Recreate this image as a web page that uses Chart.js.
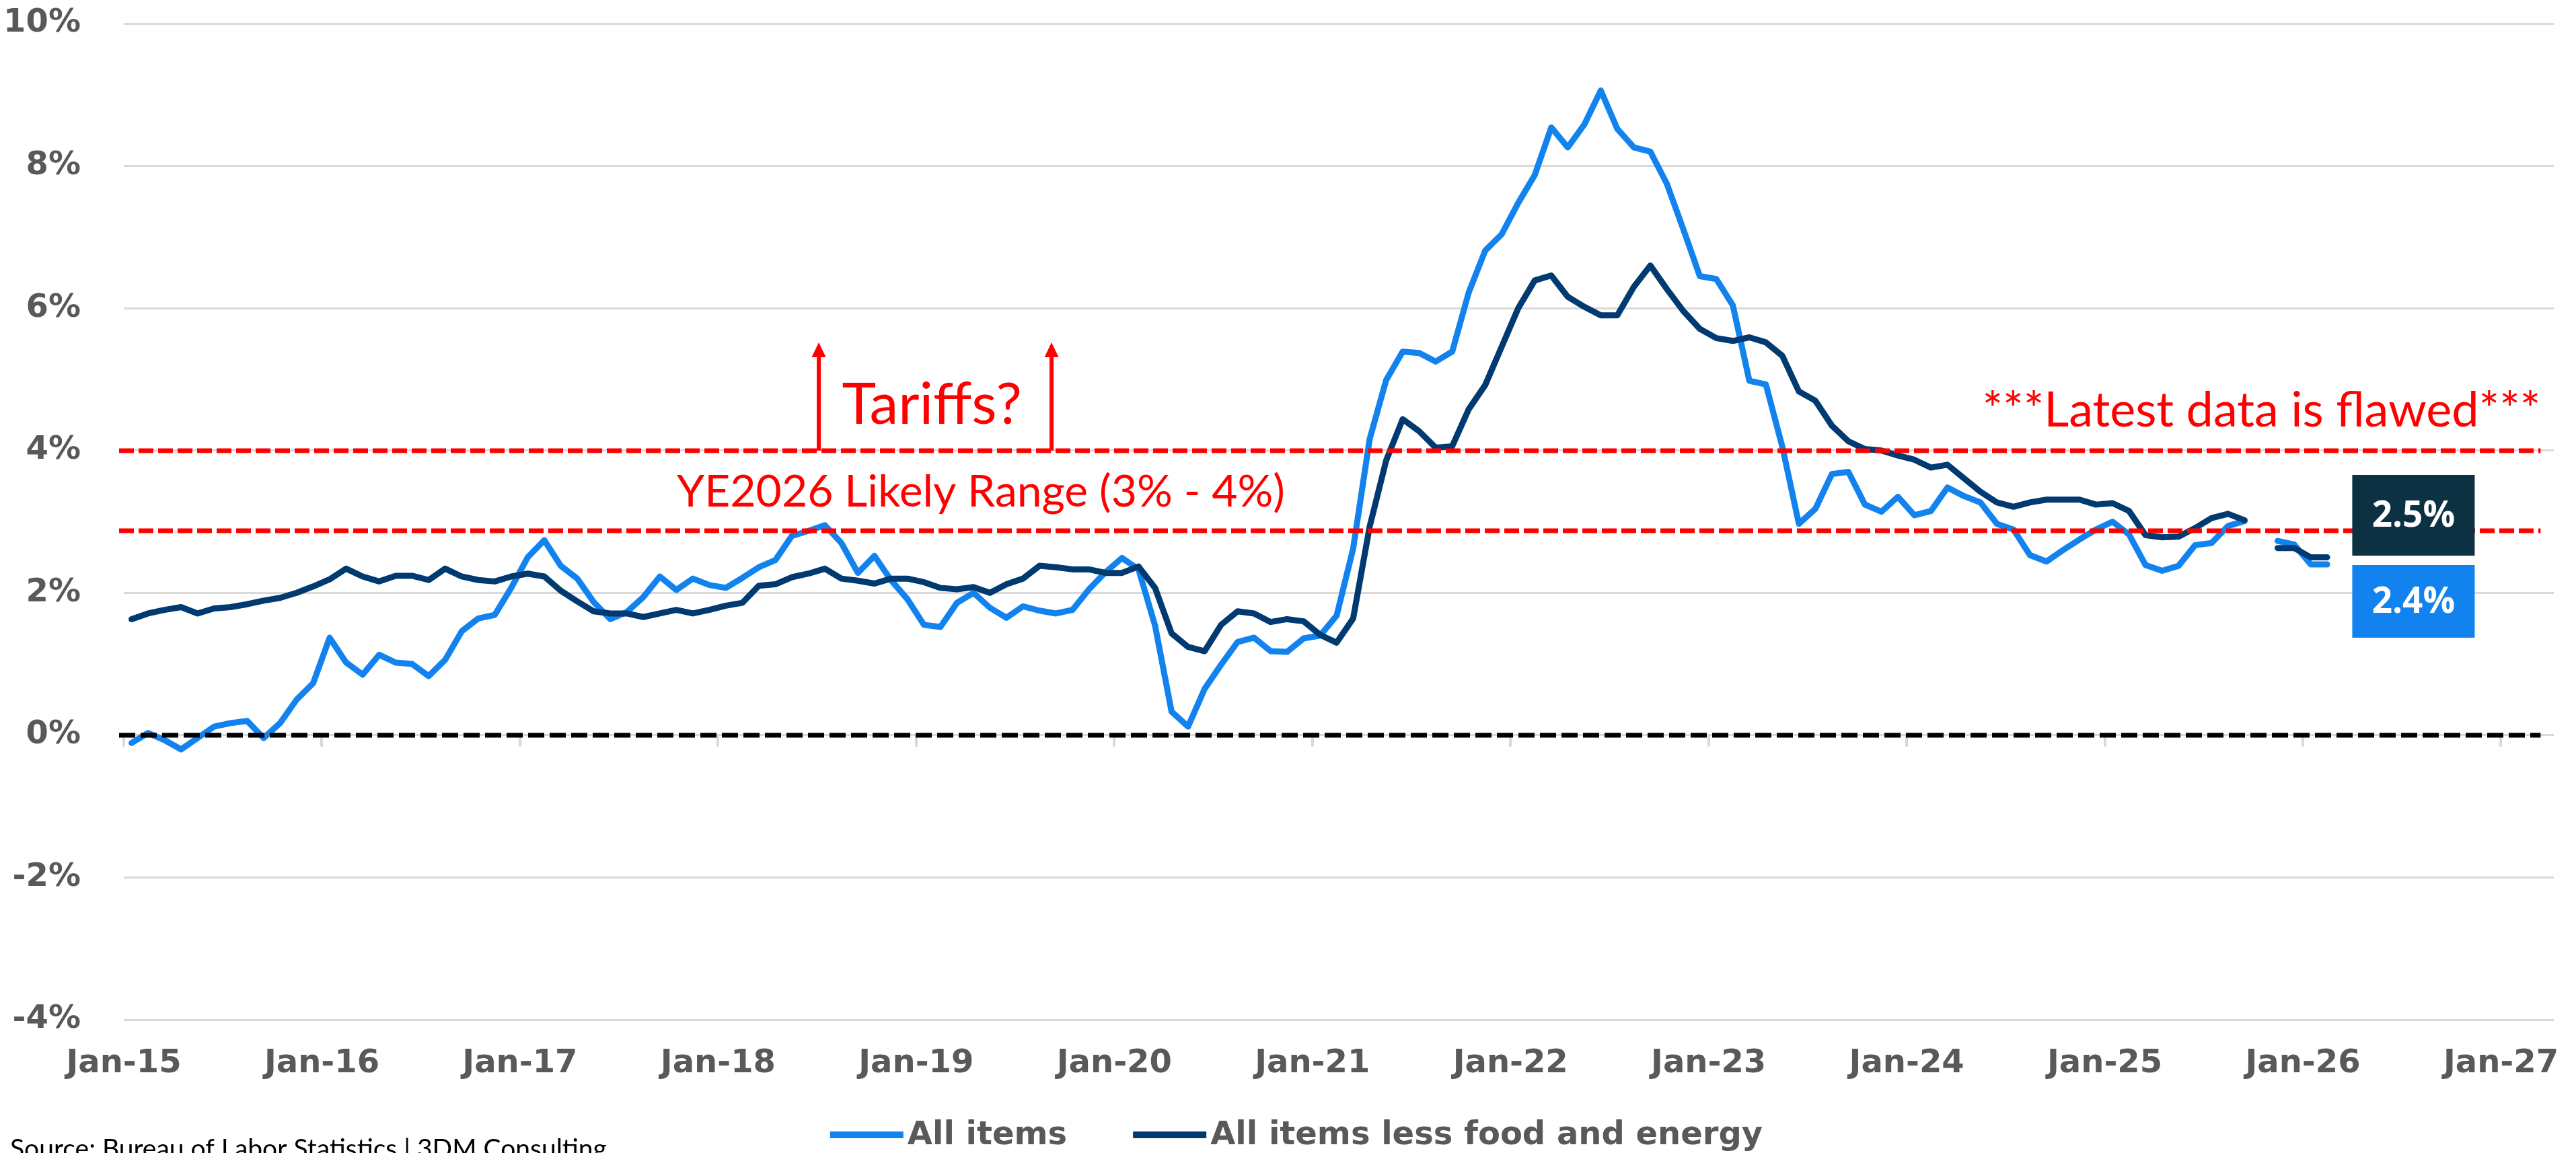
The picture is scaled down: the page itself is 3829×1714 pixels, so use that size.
<!DOCTYPE html>
<html>
<head>
<meta charset="utf-8">
<script src="https://cdn.jsdelivr.net/npm/chart.js@4.4.1/dist/chart.umd.min.js"></script>
<style>
  html, body { margin: 0; padding: 0; background: #fff; }
  #chart { display: block; }
</style>
</head>
<body>
<canvas id="chart" width="3829" height="1714"></canvas>
<script>
// monthly CPI, y/y %, Jan-15 .. Feb-26 (Oct-25 not published)
const seriesNames = ['All items', 'All items less food and energy'];

const allItems = [
  -0.11, 0.03, -0.07, -0.20, -0.04, 0.12, 0.17, 0.20, -0.04, 0.17, 0.50, 0.73,
  1.37, 1.02, 0.85, 1.13, 1.02, 1.00, 0.83, 1.06, 1.46, 1.64, 1.69, 2.07,
  2.50, 2.74, 2.38, 2.20, 1.87, 1.63, 1.73, 1.94, 2.23, 2.04, 2.20, 2.11,
  2.07, 2.21, 2.36, 2.46, 2.80, 2.87, 2.95, 2.70, 2.28, 2.52, 2.18, 1.91,
  1.55, 1.52, 1.86, 2.00, 1.79, 1.65, 1.81, 1.75, 1.71, 1.76, 2.05, 2.29,
  2.49, 2.33, 1.54, 0.33, 0.12, 0.65, 0.99, 1.31, 1.37, 1.18, 1.17, 1.36,
  1.40, 1.68, 2.62, 4.16, 4.99, 5.39, 5.37, 5.25, 5.39, 6.22, 6.81, 7.04,
  7.48, 7.87, 8.54, 8.26, 8.58, 9.06, 8.52, 8.26, 8.20, 7.75, 7.11, 6.45,
  6.41, 6.04, 4.98, 4.93, 4.05, 2.97, 3.18, 3.67, 3.70, 3.24, 3.14, 3.35,
  3.09, 3.15, 3.48, 3.36, 3.27, 2.97, 2.89, 2.53, 2.44, 2.60, 2.75, 2.89,
  3.00, 2.82, 2.39, 2.31, 2.38, 2.67, 2.70, 2.94, 3.01, null, 2.73, 2.68,
  2.40, 2.40
];

const coreItems = [
  1.63, 1.71, 1.76, 1.80, 1.71, 1.78, 1.80, 1.84, 1.89, 1.93, 2.00, 2.09,
  2.19, 2.34, 2.23, 2.16, 2.24, 2.24, 2.18, 2.34, 2.23, 2.18, 2.16, 2.23,
  2.27, 2.23, 2.03, 1.88, 1.74, 1.71, 1.71, 1.66, 1.71, 1.76, 1.71, 1.76,
  1.82, 1.86, 2.10, 2.12, 2.22, 2.27, 2.34, 2.20, 2.17, 2.13, 2.20, 2.20,
  2.15, 2.07, 2.05, 2.08, 2.00, 2.12, 2.20, 2.38, 2.36, 2.33, 2.33, 2.28,
  2.28, 2.37, 2.07, 1.43, 1.24, 1.18, 1.55, 1.74, 1.71, 1.59, 1.63, 1.60,
  1.41, 1.30, 1.64, 2.93, 3.86, 4.44, 4.27, 4.04, 4.06, 4.58, 4.92, 5.46,
  6.00, 6.39, 6.46, 6.16, 6.02, 5.90, 5.90, 6.30, 6.60, 6.27, 5.96, 5.71,
  5.58, 5.54, 5.59, 5.52, 5.33, 4.83, 4.70, 4.35, 4.13, 4.02, 4.00, 3.93,
  3.87, 3.76, 3.80, 3.61, 3.42, 3.27, 3.21, 3.27, 3.31, 3.31, 3.31, 3.24,
  3.26, 3.15, 2.81, 2.78, 2.79, 2.91, 3.05, 3.11, 3.02, null, 2.63, 2.63,
  2.50, 2.50
];

const yearTicks = ['Jan-15', 'Jan-16', 'Jan-17', 'Jan-18', 'Jan-19', 'Jan-20', 'Jan-21',
  'Jan-22', 'Jan-23', 'Jan-24', 'Jan-25', 'Jan-26', 'Jan-27'];
const yTicks = [-4, -2, 0, 2, 4, 6, 8, 10];

const rangeHigh = 4;
const rangeLow = 2.87;

const LIGHT = '#1283ee';
const DARK = '#003a70';
const GREY = '#595959';
const RED = '#ff0000';
const X_OFFSET = 0.47;   // points sit mid-month on the date axis
const AXIS_FONT = { family: '"DejaVu Sans"', size: 48, weight: 'bold' };

const toPoints = vals => vals.map((v, i) => ({ x: i + X_OFFSET, y: v }));

const overlay = {
  id: 'overlay',
  beforeDatasetsDraw(chart) {
    const { ctx, scales: { x, y } } = chart;
    const y0 = y.getPixelForValue(0);
    ctx.save();
    ctx.strokeStyle = '#d9d9d9';
    ctx.lineWidth = 4;
    x.ticks.forEach(t => {
      const px = Math.round(x.getPixelForValue(t.value));
      ctx.beginPath();
      ctx.moveTo(px, y0);
      ctx.lineTo(px, y0 + 17);
      ctx.stroke();
    });
    ctx.restore();
  },
  afterDatasetsDraw(chart) {
    const { ctx, chartArea: a, scales: { x, y } } = chart;
    const x1 = a.left - 7;
    const x2 = x.getPixelForValue(146.4);

    const dashed = (val, color, pattern) => {
      const py = Math.round(y.getPixelForValue(val));
      ctx.save();
      ctx.strokeStyle = color;
      ctx.lineWidth = 7;
      ctx.setLineDash(pattern);
      ctx.beginPath();
      ctx.moveTo(x1, py);
      ctx.lineTo(x2, py);
      ctx.stroke();
      ctx.restore();
    };
    dashed(rangeHigh, RED, [22, 7]);
    dashed(rangeLow, RED, [22, 7]);
    dashed(0, '#000', [24, 8]);

    // Tariffs? arrows
    ctx.save();
    ctx.strokeStyle = RED;
    ctx.fillStyle = RED;
    ctx.lineWidth = 6;
    [42.1, 56.2].forEach(m => {
      const px = x.getPixelForValue(m);
      const yb = y.getPixelForValue(rangeHigh);
      const yt = y.getPixelForValue(5.52);
      ctx.beginPath();
      ctx.moveTo(px, yb);
      ctx.lineTo(px, yt + 18);
      ctx.stroke();
      ctx.beginPath();
      ctx.moveTo(px, yt);
      ctx.lineTo(px - 10.5, yt + 22);
      ctx.lineTo(px + 10.5, yt + 22);
      ctx.closePath();
      ctx.fill();
    });

    ctx.textBaseline = 'alphabetic';
    ctx.font = '86px Lato';
    ctx.textAlign = 'left';
    ctx.fillText('Tariffs?', x.getPixelForValue(43.5), y.getPixelForValue(4.38));

    ctx.font = '66px Lato';
    ctx.fillText('YE2026 Likely Range (3% - 4%)', x.getPixelForValue(33.5), y.getPixelForValue(3.21));
    ctx.font = '72px Lato';
    ctx.textAlign = 'right';
    ctx.fillText('***Latest data is flawed***', x.getPixelForValue(146.4), y.getPixelForValue(4.34));
    ctx.restore();

    // last-value boxes
    const boxes = [
      { val: coreItems[coreItems.length - 1], at: 3.09, h: 120, color: '#0b3142' },
      { val: allItems[allItems.length - 1], at: 1.88, h: 108, color: LIGHT }
    ];
    ctx.save();
    ctx.font = 'bold 53px "Open Sans"';
    ctx.textAlign = 'center';
    ctx.textBaseline = 'middle';
    boxes.forEach(b => {
      const cx = x.getPixelForValue(138.7);
      const cy = y.getPixelForValue(b.at);
      ctx.fillStyle = b.color;
      ctx.fillRect(cx - 91, cy - b.h / 2, 182, b.h);
      ctx.fillStyle = '#fff';
      ctx.fillText(b.val.toFixed(1) + '%', cx, cy + 2);
    });
    ctx.restore();
  },
  afterDraw(chart) {
    const { ctx } = chart;
    ctx.save();
    // legend
    ctx.font = 'bold 48px "DejaVu Sans"';
    ctx.textBaseline = 'middle';
    ctx.textAlign = 'left';
    const sw = 109, gap = 6, itemGap = 98, ly = 1687;
    const items = chart.data.datasets.map(d => ({ label: d.label, color: d.borderColor }));
    let total = 0;
    items.forEach((it, i) => {
      it.w = ctx.measureText(it.label).width;
      total += sw + gap + it.w + (i ? itemGap : 0);
    });
    let lx = 1927 - total / 2;
    items.forEach(it => {
      ctx.fillStyle = it.color;
      ctx.fillRect(lx, ly - 5, sw, 10);
      ctx.fillStyle = GREY;
      ctx.fillText(it.label, lx + sw + gap, ly + 2);
      lx += sw + gap + it.w + itemGap;
    });

    // source line, clipped at the bottom edge like the original
    ctx.font = '39px Lato';
    ctx.fillStyle = '#000';
    ctx.textBaseline = 'alphabetic';
    ctx.fillText('Source: Bureau of Labor Statistics | 3DM Consulting', 15, 1721);
    ctx.restore();
  }
};

new Chart(document.getElementById('chart'), {
  type: 'line',
  data: {
    datasets: [
      {
        label: seriesNames[0],
        data: toPoints(allItems),
        borderColor: LIGHT,
        backgroundColor: LIGHT,
        borderWidth: 9,
        order: 1
      },
      {
        label: seriesNames[1],
        data: toPoints(coreItems),
        borderColor: DARK,
        backgroundColor: DARK,
        borderWidth: 9,
        order: 0
      }
    ]
  },
  options: {
    responsive: false,
    animation: false,
    devicePixelRatio: 1,
    layout: { autoPadding: false, padding: { top: 35, right: 33, left: 0, bottom: 0 } },
    elements: {
      point: { radius: 0 },
      line: { tension: 0, borderJoinStyle: 'round', borderCapStyle: 'round' }
    },
    spanGaps: false,
    plugins: {
      legend: { display: false },
      tooltip: { enabled: false }
    },
    scales: {
      x: {
        type: 'linear',
        min: 0,
        max: 147.2,
        afterBuildTicks: s => { s.ticks = yearTicks.map((t, k) => ({ value: k * 12 })); },
        afterFit: s => { s.height = 198; s.paddingLeft = 0; s.paddingRight = 0; },
        grid: { display: false, drawTicks: false },
        border: { display: false },
        ticks: {
          callback: (v, i) => yearTicks[i],
          autoSkip: false,
          maxRotation: 0,
          padding: 37,
          color: GREY,
          font: AXIS_FONT
        }
      },
      y: {
        min: -4,
        max: 10,
        afterBuildTicks: s => { s.ticks = yTicks.map(v => ({ value: v })); },
        afterFit: s => { s.width = 184; s.paddingTop = 0; s.paddingBottom = 0; },
        grid: { color: '#d9d9d9', lineWidth: 3, drawTicks: false },
        border: { display: false },
        ticks: {
          callback: v => v + '%',
          padding: 64,
          color: GREY,
          font: AXIS_FONT
        }
      }
    }
  },
  plugins: [overlay]
});
</script>
</body>
</html>
